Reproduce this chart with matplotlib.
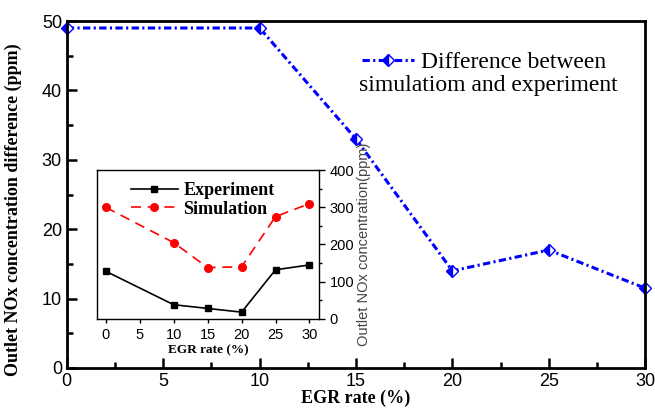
import matplotlib
matplotlib.use("Agg")
import matplotlib.pyplot as plt
from matplotlib.ticker import MultipleLocator

# main chart data
egr = [0, 10, 15, 20, 25, 30]
diff = [49, 49, 33, 14, 17, 11.5]

# inset data
egr_in = [0, 10, 15, 20, 25, 30]
experiment = [128, 38, 28, 18, 132, 145]
simulation = [300, 205, 138, 140, 275, 310]

serif = "Liberation Serif"
sans = "Liberation Sans"

fig = plt.figure(figsize=(6.55, 4.13), dpi=100)
ax = fig.add_axes([0.102, 0.109, 0.883, 0.840])

ax.plot(egr, diff, color="#0000ff", lw=2.2, dashes=[2.4, 1.1, 0.7, 1.1],
        marker="D", markersize=6.5, fillstyle="left", markerfacecoloralt="white",
        markeredgecolor="#0000ff", markeredgewidth=1.0,
        label="Difference between", clip_on=False)
ax.set_xlim(0, 30)
ax.set_ylim(0, 50)
ax.xaxis.set_major_locator(MultipleLocator(5))
ax.xaxis.set_minor_locator(MultipleLocator(2.5))
ax.yaxis.set_major_locator(MultipleLocator(10))
ax.yaxis.set_minor_locator(MultipleLocator(5))
ax.tick_params(which="both", direction="in", width=1.8)
ax.tick_params(which="major", length=7, labelsize=13)
ax.tick_params(which="minor", length=4)
for lab in ax.get_xticklabels() + ax.get_yticklabels():
    lab.set_family(sans)
for s in ax.spines.values():
    s.set_linewidth(2)
ax.set_xlabel("EGR rate (%)", family=serif, fontweight="bold", fontsize=13, labelpad=0)
ax.set_ylabel("Outlet NOx concentration difference (ppm)", family=serif,
              fontweight="bold", fontsize=13)
ax.yaxis.set_label_coords(-0.077, 0.455)
ax.legend(loc="upper left", bbox_to_anchor=(0.49, 0.945), frameon=False,
          prop={"family": serif, "size": 17}, handlelength=2.2,
          handletextpad=0.3, borderpad=0)
ax.text(0.505, 0.815, "simulatiom and experiment", transform=ax.transAxes,
        family=serif, fontsize=17, va="center", ha="left")

# inset
ins = fig.add_axes([0.148, 0.228, 0.339, 0.360])
ins.plot(egr_in, experiment, color="black", lw=1.2, marker="s", markersize=5,
         label="Experiment")
ins.plot(egr_in, simulation, color="red", lw=1.2, ls=(0, (6, 4)), marker="o",
         markersize=5.5, label="Simulation")
ins.set_xlim(-1.3, 31.4)
ins.set_ylim(0, 400)
ins.xaxis.set_major_locator(MultipleLocator(5))
ins.yaxis.set_major_locator(MultipleLocator(100))
ins.yaxis.set_minor_locator(MultipleLocator(50))
ins.yaxis.tick_right()
ins.yaxis.set_label_position("right")
ins.tick_params(which="both", direction="out", width=1, labelsize=10.5)
ins.tick_params(which="major", length=4)
ins.tick_params(which="minor", length=2)
ins.tick_params(axis="x", length=3)
for lab in ins.get_xticklabels() + ins.get_yticklabels():
    lab.set_family(sans)
for s in ins.spines.values():
    s.set_linewidth(1)
ins.set_xlabel("EGR rate (%)", family=serif, fontweight="bold", fontsize=9.5, labelpad=2)
ins.set_ylabel("Outlet NOx concentration(ppm)", family=sans, fontsize=10.5, labelpad=2,
               color="#444444")
ins.legend(loc="upper left", bbox_to_anchor=(0.08, 1.03), frameon=False,
           prop={"family": serif, "size": 13, "weight": "bold"}, handlelength=2.6,
           handletextpad=0.3, labelspacing=0.1)

fig.savefig("out.png", dpi=100)
